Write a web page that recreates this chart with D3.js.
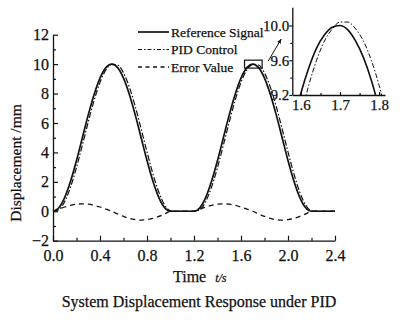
<!DOCTYPE html>
<html>
<head>
<meta charset="utf-8">
<script src="https://cdn.jsdelivr.net/npm/d3@7/dist/d3.min.js"></script>
<style>
  html, body { margin: 0; padding: 0; background: #fff; }
  svg text { font-family: "Liberation Serif", "Times New Roman", serif; fill: #111; stroke: #111; stroke-width: 0.25px; }
</style>
</head>
<body>
<svg id="chart" width="400" height="326"></svg>
<script>
// Sample times (s)
const time = [0.00, 0.05, 0.10, 0.15, 0.20, 0.25, 0.30, 0.35, 0.40, 0.45,
              0.50, 0.55, 0.60, 0.65, 0.70, 0.75, 0.80, 0.85, 0.90, 0.95,
              1.00, 1.05, 1.10, 1.15, 1.20, 1.25, 1.30, 1.35, 1.40, 1.45,
              1.50, 1.55, 1.60, 1.65, 1.70, 1.75, 1.80, 1.85, 1.90, 1.95,
              2.00, 2.05, 2.10, 2.15, 2.20, 2.25, 2.30, 2.35, 2.40];

// Displacement (mm)
const referenceSignal = [0.00, 0.24, 0.95, 2.06, 3.45, 5.00, 6.55, 7.94, 9.05, 9.76,
                         10.00, 9.76, 9.05, 7.94, 6.55, 5.00, 3.45, 2.06, 0.95, 0.24,
                         0.00, 0.00, 0.00, 0.00, 0.00, 0.24, 0.95, 2.06, 3.45, 5.00,
                         6.55, 7.94, 9.05, 9.76, 10.00, 9.76, 9.05, 7.94, 6.55, 5.00,
                         3.45, 2.06, 0.95, 0.24, 0.00, 0.00, 0.00, 0.00, 0.00];

const pidControl = [0.00, 0.10, 0.67, 1.66, 2.98, 4.50, 6.07, 7.54, 8.76, 9.61,
                    9.99, 9.94, 9.40, 8.43, 7.12, 5.60, 4.03, 2.55, 1.31, 0.43,
                    0.03, 0.00, 0.00, 0.00, 0.00, 0.10, 0.67, 1.66, 2.98, 4.50,
                    6.07, 7.54, 8.76, 9.61, 9.99, 9.94, 9.40, 8.43, 7.12, 5.60,
                    4.03, 2.55, 1.31, 0.43, 0.03, 0.00, 0.00, 0.00, 0.00];

const errorValue = [0.00, 0.15, 0.29, 0.40, 0.48, 0.50, 0.48, 0.40, 0.29, 0.15,
                    0.00, -0.18, -0.35, -0.49, -0.57, -0.60, -0.57, -0.49, -0.35, -0.18,
                    0.00, 0.00, 0.00, 0.00, 0.00, 0.15, 0.29, 0.40, 0.48, 0.50,
                    0.48, 0.40, 0.29, 0.15, 0.00, -0.18, -0.35, -0.49, -0.57, -0.60,
                    -0.57, -0.49, -0.35, -0.18, 0.00, 0.00, 0.00, 0.00, 0.00];

// Detail around the second peak
const zoomTime = [1.58, 1.60, 1.62, 1.64, 1.66, 1.68, 1.70, 1.72, 1.74, 1.76, 1.78, 1.80, 1.82];
const zoomReference = [8.84, 9.22, 9.51, 9.74, 9.89, 9.98, 10.00, 9.95, 9.82, 9.63, 9.37, 9.04, 8.64];
const zoomPid = [8.52, 8.95, 9.31, 9.60, 9.82, 9.96, 10.04, 10.04, 9.96, 9.82, 9.60, 9.31, 8.95];

const xTicks = [0.0, 0.4, 0.8, 1.2, 1.6, 2.0, 2.4];
const xMinorTicks = [0.2, 0.6, 1.0, 1.4, 1.8, 2.2];
const yTicks = [-2, 0, 2, 4, 6, 8, 10, 12];
const yMinorTicks = [-1, 1, 3, 5, 7, 9, 11];
const zoomXTicks = [1.6, 1.7, 1.8];
const zoomXMinorTicks = [1.65, 1.75];
const zoomYTicks = [9.2, 9.6, 10.0];
const zoomYMinorTicks = [9.4, 9.8];

// Region highlighted on the main plot [t0, t1, y0, y1]
const focusBox = [1.63, 1.78, 9.73, 10.27];

const seriesNames = ["Reference Signal", "PID Control", "Error Value"];

const styles = {
  ref:   { width: 1.7, dash: null },
  pid:   { width: 1.2, dash: "6,2,1.5,2" },
  err:   { width: 1.3, dash: "5,4" }
};

const svg = d3.select("#chart");
const ink = "#111";

// ---------- main plot ----------
const x = d3.scaleLinear().domain([0, 2.4]).range([53, 335]);
const y = d3.scaleLinear().domain([-2, 12]).range([240.7, 34.7]);

const main = svg.append("g");

function styleAxis(g, size) {
  g.selectAll("path.domain").attr("stroke", ink).attr("stroke-width", 1.3);
  g.selectAll(".tick line").attr("stroke", ink).attr("stroke-width", 1.2);
  g.selectAll(".tick text").style("font-size", size + "px").attr("fill", ink);
}

main.append("g")
  .attr("transform", `translate(0,${y(-2)})`)
  .call(d3.axisBottom(x).tickValues(xMinorTicks).tickSize(-3).tickFormat(""))
  .call(g => g.select(".domain").remove())
  .call(g => styleAxis(g, 16));
main.append("g")
  .attr("transform", `translate(0,${y(-2)})`)
  .call(d3.axisBottom(x).tickValues(xTicks).tickSize(-5).tickSizeOuter(0)
        .tickPadding(9).tickFormat(d3.format(".1f")))
  .call(g => styleAxis(g, 16));

main.append("g")
  .attr("transform", `translate(${x(0)},0)`)
  .call(d3.axisLeft(y).tickValues(yMinorTicks).tickSize(-3).tickFormat(""))
  .call(g => g.select(".domain").remove())
  .call(g => styleAxis(g, 16));
main.append("g")
  .attr("transform", `translate(${x(0)},0)`)
  .call(d3.axisLeft(y).tickValues(yTicks).tickSize(-5).tickSizeOuter(0)
        .tickPadding(4).tickFormat(d3.format("d")))
  .call(g => styleAxis(g, 16));

const lineMain = (vals) => d3.line()
  .x((d, i) => x(time[i]))
  .y(d => y(d))
  .curve(d3.curveMonotoneX)(vals);

function drawPath(g, dPath, st) {
  const p = g.append("path").attr("d", dPath)
    .attr("fill", "none").attr("stroke", ink)
    .attr("stroke-width", st.width).attr("stroke-linejoin", "round");
  if (st.dash) p.attr("stroke-dasharray", st.dash);
  return p;
}

drawPath(main, lineMain(errorValue), styles.err);
drawPath(main, lineMain(pidControl), styles.pid);
drawPath(main, lineMain(referenceSignal), styles.ref);

// axis titles
svg.append("text")
  .attr("transform", "translate(21,163) rotate(-90)")
  .attr("text-anchor", "middle")
  .style("font-size", "15.5px")
  .text("Displacement /mm");

const xt = svg.append("text").attr("x", 173).attr("y", 282).style("font-size", "16px");
xt.append("tspan").text("Time");
xt.append("tspan").attr("dx", 9).style("font-style", "italic").style("font-size", "12px").text("t/s");

svg.append("text")
  .attr("x", 199).attr("y", 307)
  .attr("text-anchor", "middle")
  .style("font-size", "16px")
  .text("System Displacement Response under PID");

// ---------- legend ----------
const legend = svg.append("g");
const legendStyles = [styles.ref, styles.pid, styles.err];
seriesNames.forEach((name, i) => {
  const cy = 32 + i * 17.5;
  const l = legend.append("line")
    .attr("x1", 138).attr("x2", 169).attr("y1", cy).attr("y2", cy)
    .attr("stroke", ink).attr("stroke-width", legendStyles[i].width);
  if (legendStyles[i].dash) l.attr("stroke-dasharray", i === 1 ? "4,2,1.5,2" : "4,3.5");
  legend.append("text").attr("x", 171).attr("y", cy + 4.5)
    .style("font-size", "13.5px").text(name);
});

// ---------- focus box and arrow ----------
svg.append("rect")
  .attr("x", x(focusBox[0])).attr("y", y(focusBox[3]))
  .attr("width", x(focusBox[1]) - x(focusBox[0]))
  .attr("height", y(focusBox[2]) - y(focusBox[3]))
  .attr("fill", "none").attr("stroke", ink).attr("stroke-width", 1.2);

svg.append("defs").append("marker")
  .attr("id", "arrowhead").attr("viewBox", "0 0 10 10")
  .attr("refX", 9).attr("refY", 5)
  .attr("markerWidth", 5).attr("markerHeight", 5)
  .attr("orient", "auto")
  .append("path").attr("d", "M0,1 L10,5 L0,9 Z").attr("fill", ink);

svg.append("line")
  .attr("x1", x(focusBox[1]) + 6).attr("y1", y(focusBox[3]) + 1)
  .attr("x2", x(focusBox[1]) + 19).attr("y2", y(focusBox[3]) - 21)
  .attr("stroke", ink).attr("stroke-width", 1)
  .attr("marker-end", "url(#arrowhead)");

// ---------- inset ----------
const xz = d3.scaleLinear().domain([1.578, 1.815]).range([292.3, 385]);
const yz = d3.scaleLinear().domain([9.2, 10.21]).range([95, 7.3]);

const inset = svg.append("g");
inset.append("clipPath").attr("id", "insetClip")
  .append("rect")
  .attr("x", xz.range()[0]).attr("y", yz.range()[1])
  .attr("width", xz.range()[1] - xz.range()[0])
  .attr("height", yz.range()[0] - yz.range()[1]);

inset.append("g")
  .attr("transform", `translate(0,${yz(9.2)})`)
  .call(d3.axisBottom(xz).tickValues(zoomXMinorTicks).tickSize(-2).tickFormat(""))
  .call(g => g.select(".domain").remove())
  .call(g => styleAxis(g, 15));
inset.append("g")
  .attr("transform", `translate(0,${yz(9.2)})`)
  .call(d3.axisBottom(xz).tickValues(zoomXTicks).tickSize(-3).tickSizeOuter(0)
        .tickPadding(4).tickFormat(d3.format(".1f")))
  .call(g => styleAxis(g, 15));

inset.append("g")
  .attr("transform", `translate(${xz(1.578)},0)`)
  .call(d3.axisLeft(yz).tickValues(zoomYMinorTicks).tickSize(2).tickFormat(""))
  .call(g => g.select(".domain").remove())
  .call(g => styleAxis(g, 15));
inset.append("g")
  .attr("transform", `translate(${xz(1.578)},0)`)
  .call(d3.axisLeft(yz).tickValues(zoomYTicks).tickSize(3).tickSizeOuter(0)
        .tickPadding(0).tickFormat(d3.format(".1f")))
  .call(g => styleAxis(g, 15));

const lineZoom = (vals) => d3.line()
  .x((d, i) => xz(zoomTime[i]))
  .y(d => yz(d))
  .curve(d3.curveMonotoneX)(vals);

const insetLines = inset.append("g").attr("clip-path", "url(#insetClip)");
drawPath(insetLines, lineZoom(zoomPid), { width: 1.0, dash: "5,2,1.5,2" });
drawPath(insetLines, lineZoom(zoomReference), { width: 1.6, dash: null });
</script>
</body>
</html>
